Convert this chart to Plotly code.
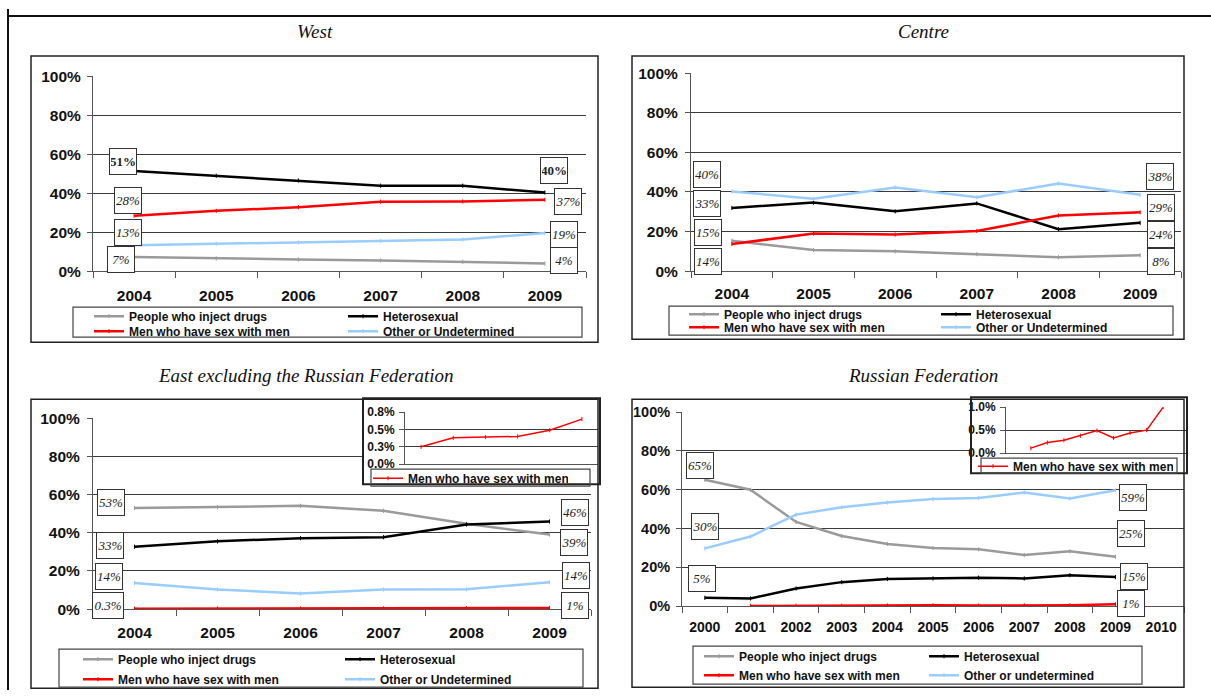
import plotly.graph_objects as go

# ---------------- data (percent) ----------------
years_main = ["2004", "2005", "2006", "2007", "2008", "2009"]
years_ru_axis = ["2000", "2001", "2002", "2003", "2004", "2005", "2006", "2007", "2008", "2009", "2010"]
years_ru = ["2000", "2001", "2002", "2003", "2004", "2005", "2006", "2007", "2008", "2009"]
years_ru_msm = ["2001", "2002", "2003", "2004", "2005", "2006", "2007", "2008", "2009"]

series_names = ["People who inject drugs", "Heterosexual", "Men who have sex with men", "Other or Undetermined"]
series_names_ru = ["People who inject drugs", "Heterosexual", "Men who have sex with men", "Other or undetermined"]

west_pwid = [7.2, 6.5, 6.0, 5.5, 4.8, 3.9]
west_het = [51.3, 48.9, 46.5, 43.8, 43.8, 40.3]
west_msm = [28.4, 30.9, 32.8, 35.6, 35.7, 36.6]
west_oth = [13.3, 14.0, 14.7, 15.4, 16.2, 19.5]

centre_pwid = [15.3, 10.7, 10.0, 8.6, 7.0, 8.0]
centre_het = [31.9, 34.6, 30.2, 34.2, 21.2, 24.4]
centre_msm = [13.7, 19.0, 18.5, 20.3, 28.1, 29.7]
centre_oth = [40.2, 36.6, 42.2, 37.3, 44.2, 38.6]

east_pwid = [53.0, 53.4, 54.1, 51.5, 44.7, 39.1]
east_het = [32.7, 35.5, 37.2, 37.7, 44.3, 45.9]
east_msm = [0.25, 0.38, 0.39, 0.40, 0.49, 0.65]
east_oth = [13.7, 10.3, 8.2, 10.3, 10.4, 14.1]

ru_pwid = [65.2, 60.0, 43.4, 36.2, 32.1, 30.0, 29.3, 26.4, 28.3, 25.5]
ru_het = [4.3, 4.0, 9.1, 12.4, 14.0, 14.3, 14.7, 14.3, 16.0, 15.0]
ru_oth = [29.8, 35.9, 47.2, 51.0, 53.4, 55.2, 55.7, 58.6, 55.5, 59.7]
ru_msm = [0.11, 0.23, 0.28, 0.38, 0.49, 0.33, 0.44, 0.50, 1.0]

main_yticks = [0, 20, 40, 60, 80, 100]
east_inset_yticks = [0, 0.25, 0.5, 0.75]
east_inset_yticktext = ["0.0%", "0.3%", "0.5%", "0.8%"]
ru_inset_yticks = [0, 0.5, 1.0]
ru_inset_yticktext = ["0.0%", "0.5%", "1.0%"]

titles = ["West", "Centre", "East excluding the Russian Federation", "Russian Federation"]

# ---------------- geometry helpers (screen px -> paper) ----------------
W, H = 1211, 698
# vertical calibration measured from an earlier render
VY0, VS = 8.9, 0.9755


def px(X):
    return X / W


def py(Y):
    return 1 - ((Y - VY0) / VS) / H


COL_PWID = "#9a9a9a"
COL_HET = "#000000"
COL_MSM = "#ff0000"
COL_OTH = "#99ccff"
GRID = "#3a3a3a"
AXIS = "#555555"

fig = go.Figure()


def add_line(x, y, name, color, ax, legend, width=2.5, showlegend=True):
    fig.add_trace(go.Scatter(
        x=x, y=y, name=name, mode="lines+markers",
        line=dict(color=color, width=width),
        marker=dict(symbol="line-ns-open", size=3, color=color, line=dict(color=color, width=1)),
        xaxis="x" + ax, yaxis="y" + ax, legend=legend, showlegend=showlegend,
        hoverinfo="skip",
    ))


# West (1)
add_line(years_main, west_pwid, series_names[0], COL_PWID, "", "legend")
add_line(years_main, west_het, series_names[1], COL_HET, "", "legend")
add_line(years_main, west_msm, series_names[2], COL_MSM, "", "legend2")
add_line(years_main, west_oth, series_names[3], COL_OTH, "", "legend2")
# Centre (2)
add_line(years_main, centre_pwid, series_names[0], COL_PWID, "2", "legend3")
add_line(years_main, centre_het, series_names[1], COL_HET, "2", "legend3")
add_line(years_main, centre_msm, series_names[2], COL_MSM, "2", "legend4")
add_line(years_main, centre_oth, series_names[3], COL_OTH, "2", "legend4")
# East (3)
add_line(years_main, east_pwid, series_names[0], COL_PWID, "3", "legend5")
add_line(years_main, east_het, series_names[1], COL_HET, "3", "legend5")
add_line(years_main, east_msm, series_names[2], COL_MSM, "3", "legend6")
add_line(years_main, east_oth, series_names[3], COL_OTH, "3", "legend6")
# Russia (4)
add_line(years_ru, ru_pwid, series_names_ru[0], COL_PWID, "4", "legend7")
add_line(years_ru, ru_het, series_names_ru[1], COL_HET, "4", "legend7")
add_line(years_ru_msm, ru_msm, series_names_ru[2], COL_MSM, "4", "legend8")
add_line(years_ru, ru_oth, series_names_ru[3], COL_OTH, "4", "legend8")

# inset background holders (5, 6)
for ax in ["5", "6"]:
    fig.add_trace(go.Scatter(x=[None], y=[None], xaxis="x" + ax, yaxis="y" + ax,
                             showlegend=False, hoverinfo="skip"))

# insets (7, 8)
add_line(years_main, east_msm, series_names[2], COL_MSM, "7", "legend9", width=1.5)
add_line(years_ru_msm, ru_msm, series_names_ru[2], COL_MSM, "8", "legend10", width=1.5)

# ---------------- axes ----------------
bold = dict(family="Liberation Sans", color="#111111", weight="bold")


def xcat(dom, anchor, cats, size, standoff, showlabels=True):
    return dict(domain=[px(dom[0]), px(dom[1])], anchor=anchor, type="category",
                categoryorder="array", categoryarray=cats, range=[-0.5, len(cats) - 0.5],
                tickson="boundaries", ticks="outside" if showlabels else "", ticklen=6,
                tickcolor=AXIS, showline=True, linecolor=AXIS, linewidth=1,
                showgrid=False, zeroline=False, showticklabels=showlabels,
                tickfont=dict(size=size, **bold), ticklabelstandoff=standoff, fixedrange=True)


def yval(dom, anchor, rng, tickvals, ticktext, size, standoff):
    return dict(domain=[py(dom[0]), py(dom[1])], anchor=anchor, range=rng,
                tickmode="array", tickvals=tickvals, ticktext=ticktext,
                showgrid=True, gridcolor=GRID, gridwidth=1, zeroline=False,
                showline=True, linecolor=AXIS, linewidth=1, ticks="outside", ticklen=5,
                tickcolor=AXIS, tickfont=dict(size=size, **bold), ticklabelstandoff=standoff,
                fixedrange=True)


main_ticktext = [f"{v}%" for v in main_yticks]

fig.update_layout(
    xaxis=xcat((93, 586), "y", years_main, 15.5, 10),
    yaxis=yval((271, 76), "x", [0, 100], main_yticks, main_ticktext, 15.5, 3),
    xaxis2=xcat((691, 1181), "y2", years_main, 15.5, 8),
    yaxis2=yval((271, 73), "x2", [0, 100], main_yticks, main_ticktext, 15.5, 4),
    xaxis3=xcat((93, 591), "y3", years_main, 15.5, 9),
    yaxis3=yval((609, 418), "x3", [0, 100], main_yticks, main_ticktext, 15.5, 4),
    xaxis4=xcat((682, 1184), "y4", years_ru_axis, 14, 8),
    yaxis4=yval((606, 412), "x4", [0, 100], main_yticks, main_ticktext, 14.5, 3),
    xaxis5=dict(domain=[px(363), px(600)], anchor="y5", range=[0, 1], visible=False, fixedrange=True),
    yaxis5=dict(domain=[py(484), py(398)], anchor="x5", range=[0, 1], visible=False, fixedrange=True),
    xaxis6=dict(domain=[px(971), px(1187)], anchor="y6", range=[0, 1], visible=False, fixedrange=True),
    yaxis6=dict(domain=[py(473), py(397)], anchor="x6", range=[0, 1], visible=False, fixedrange=True),
    xaxis7=xcat((405, 598), "y7", years_main, 12, 0, showlabels=False),
    yaxis7=yval((464, 412), "x7", [0, 0.75], east_inset_yticks, east_inset_yticktext, 12, 2),
    xaxis8=xcat((1006, 1188), "y8", years_ru_axis, 12, 0, showlabels=False),
    yaxis8=yval((453, 407), "x8", [0, 1.0], ru_inset_yticks, ru_inset_yticktext, 12, 2),
)

# ---------------- legends ----------------
def leg(x_text, y_center, pitch, size=12):
    return dict(x=px(x_text - 40), y=py(y_center), xref="paper", yref="paper",
                xanchor="left", yanchor="middle", orientation="h",
                entrywidth=pitch - 45, entrywidthmode="pixels",
                bgcolor="rgba(0,0,0,0)", borderwidth=0, tracegroupgap=0,
                font=dict(family="Liberation Sans", size=size, color="#111111", weight="bold"),
                itemclick=False, itemdoubleclick=False)


fig.update_layout(
    legend=leg(129, 316, 254), legend2=leg(129, 331, 254),
    legend3=leg(724, 314, 252), legend4=leg(724, 327, 252),
    legend5=leg(118, 659, 262), legend6=leg(118, 679, 262),
    legend7=leg(739, 656, 225), legend8=leg(739, 675, 225),
    legend9=leg(408, 478, 200), legend10=leg(1013, 466, 200),
)

# ---------------- shapes ----------------
shapes = []
# white backing of the insets (drawn in their own subplot, above main panels)
for ax in ["5", "6"]:
    shapes.append(dict(type="rect", xref="x" + ax, yref="y" + ax, x0=0, x1=1, y0=0, y1=1,
                       fillcolor="white", line=dict(width=0), layer="below"))


def frame(x0, y0, x1, y1, w=1.5, col="#222222"):
    shapes.append(dict(type="rect", xref="paper", yref="paper", x0=px(x0), x1=px(x1),
                       y0=py(y1), y1=py(y0), line=dict(color=col, width=w),
                       fillcolor="rgba(0,0,0,0)", layer="above"))


frame(31, 56, 598, 342)       # West
frame(632, 56, 1184, 339)     # Centre
frame(31, 399, 598, 688)      # East
frame(632, 399, 1184, 687)    # Russia
frame(363, 398, 600, 484, 2)  # East inset
frame(971, 397, 1187, 473, 2)  # Russia inset
# legend boxes
frame(73, 307, 582, 337, 1.2, "#444444")
frame(669, 306, 1173, 335, 1.2, "#444444")
frame(59, 649, 583, 687, 1.2, "#444444")
frame(693, 646, 1142, 684, 1.2, "#444444")
frame(371, 469, 590, 486, 1.2, "#444444")
frame(981, 458, 1177, 473, 1.2, "#444444")
# outer page frame
shapes.append(dict(type="line", xref="paper", yref="paper", x0=px(8), x1=px(1211), y0=py(16), y1=py(16),
                   line=dict(color="#111111", width=2), layer="above"))
shapes.append(dict(type="line", xref="paper", yref="paper", x0=px(8), x1=px(8), y0=0, y1=1,
                   line=dict(color="#111111", width=2), layer="above"))

# ---------------- annotations ----------------
ann = []
title_pos = [(315, 31), (923, 31), (305, 375), (923, 375)]
for t, (tx, ty) in zip(titles, title_pos):
    ann.append(dict(text=t, x=px(tx), y=py(ty), xref="paper", yref="paper", showarrow=False,
                    xanchor="center", yanchor="middle",
                    font=dict(family="Liberation Serif", size=19, style="italic", color="#111111")))

# value label boxes: text, centre x, centre y, italic
labels = [
    ("51%", 122.5, 161.5, False), ("28%", 127.5, 200.5, True), ("13%", 127.5, 232, True), ("7%", 121, 259, True),
    ("40%", 554, 170.5, False), ("37%", 567.5, 201.5, True), ("19%", 563.5, 234, True), ("4%", 563.5, 260, True),
    ("40%", 706.5, 174.5, True), ("33%", 706.5, 203.5, True), ("15%", 707.5, 232.5, True), ("14%", 707.5, 261.5, True),
    ("38%", 1159.5, 176, True), ("29%", 1160.5, 207.5, True), ("24%", 1160.5, 234.5, True), ("8%", 1160.5, 261.5, True),
    ("53%", 110.5, 502, True), ("33%", 109.5, 545.5, True), ("14%", 108.5, 576, True), ("0.3%", 108, 605.5, True),
    ("46%", 574.5, 512, True), ("39%", 574, 542.5, True), ("14%", 575.5, 575.5, True), ("1%", 575, 605, True),
    ("65%", 699.5, 465, True), ("30%", 705, 526, True), ("5%", 701.5, 578, True),
    ("59%", 1133, 497, True), ("25%", 1130.5, 533, True), ("15%", 1133.5, 576, True), ("1%", 1131, 603.5, True),
]
for t, lx, ly, it in labels:
    w = 28 if len(t) > 3 else 24
    ann.append(dict(text=t, x=px(lx), y=py(ly), xref="paper", yref="paper", showarrow=False,
                    xanchor="center", yanchor="middle", width=w, height=23,
                    bgcolor="white", bordercolor="#333333", borderwidth=1, borderpad=1,
                    font=dict(family="Liberation Serif", size=13, color="#222222",
                              style="italic" if it else "normal", weight="normal" if it else "bold")))

fig.update_layout(
    width=W, height=H, margin=dict(l=0, r=0, t=0, b=0),
    paper_bgcolor="white", plot_bgcolor="white",
    shapes=shapes, annotations=ann, hovermode=False,
)

# place the figure at the page origin (no default body margin)
post = ("document.body.style.margin='0';document.body.style.overflow='hidden';"
        "var d=document.getElementById('{plot_id}');d.style.position='absolute';"
        "d.style.left='0px';d.style.top='0px';")

fig.write_html("out.html", config={"displayModeBar": False}, post_script=post)
